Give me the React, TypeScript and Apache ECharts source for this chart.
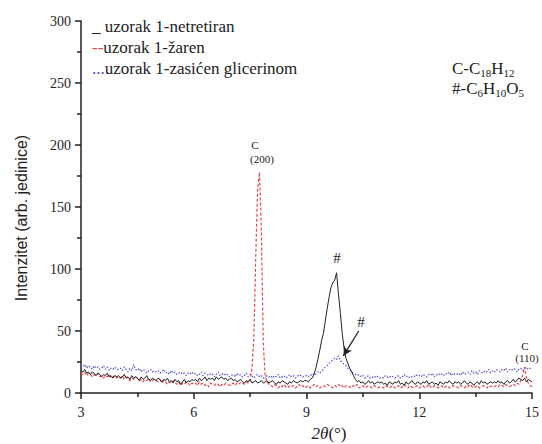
import React, { useEffect, useRef } from "react";
import * as echarts from "echarts";

// 2θ sampling grid: 3.00 .. 15.00 step 0.05 (241 points)
const X_START = 3;
const X_STEP = 0.05;

// uzorak 1-netretiran (black)
const netretiran = [
  18,17,19,16,17,15,17,16,14,16,15,13,15,14,16,13,14,12,14,13,
  14,12,13,15,12,13,11,14,12,13,12,10,13,11,12,14,11,10,12,11,
  10,12,11,9,11,10,12,9,10,8,11,9,10,7,9,11,8,10,9,11,
  10,11,9,12,10,11,13,10,12,11,12,10,13,11,12,13,11,12,10,11,
  12,10,11,9,10,11,9,8,10,9,11,8,9,10,8,9,10,8,9,10,
  8,9,10,8,7,9,8,10,9,8,7,9,8,10,9,8,9,10,9,10,
  10,9,11,12,15,20,27,34,42,48,58,68,77,85,89,91,97,80,65,48,
  36,28,24,20,17,14,11,9,10,8,9,7,8,10,8,9,7,8,9,8,
  9,7,8,6,9,8,7,9,8,10,7,8,6,9,7,8,10,8,7,9,
  8,7,9,8,10,7,8,9,7,8,6,9,8,7,9,8,10,8,7,9,
  8,9,7,8,10,8,7,9,8,6,8,9,7,10,8,9,7,8,9,8,
  9,8,10,8,9,7,9,10,8,9,11,9,10,12,11,10,12,9,11,10,
  9,
];

// uzorak 1-žaren (red, dashed)
const zaren = [
  16,15,17,14,16,15,13,15,14,16,13,14,12,14,13,15,12,13,14,12,
  13,12,14,11,13,12,10,12,11,13,12,10,11,9,11,10,12,9,10,11,
  10,9,11,8,10,9,7,9,8,10,8,7,9,6,8,7,9,8,6,8,
  7,8,6,9,7,8,6,7,5,8,7,6,8,7,5,7,6,8,7,6,
  7,8,6,8,7,9,8,7,9,8,10,20,45,110,165,178,130,40,14,9,
  7,6,5,7,6,4,6,5,7,5,4,6,5,6,4,5,7,5,6,4,
  5,6,4,5,7,5,6,4,5,6,5,7,6,5,4,6,5,7,5,6,
  4,6,5,5,4,6,5,7,4,5,6,4,5,6,5,4,6,5,4,5,
  5,4,6,5,4,5,6,4,5,6,4,5,7,5,4,6,5,4,5,6,
  4,5,6,4,5,7,5,4,6,5,4,5,6,4,5,6,4,5,6,5,
  5,4,6,5,4,6,5,7,5,4,5,6,4,5,6,5,4,6,5,6,
  5,6,5,7,6,5,7,6,5,6,7,6,8,7,10,14,21,13,8,6,
  5,
];

// uzorak 1-zasićen glicerinom (blue, dotted)
const glicerin = [
  22,21,23,20,22,21,19,22,20,21,19,20,22,19,21,18,20,19,21,19,
  19,20,18,21,19,17,20,18,23,19,18,20,17,19,18,16,18,19,17,18,
  17,18,16,17,19,16,17,15,18,16,17,15,16,17,15,16,14,16,15,17,
  15,16,14,15,17,14,16,15,14,16,15,13,15,17,14,15,16,14,15,13,
  14,15,13,16,14,15,13,14,16,13,15,14,12,14,15,13,14,12,13,14,
  13,14,12,14,13,15,12,13,14,12,13,15,13,14,12,13,15,14,13,14,
  14,13,15,14,16,15,17,16,18,19,21,22,24,25,27,28,27,30,26,25,
  23,22,20,19,17,16,15,14,15,13,14,12,13,14,12,13,12,14,13,12,
  13,12,14,13,12,14,13,12,13,14,12,13,15,13,14,12,13,14,13,15,
  14,13,15,14,13,15,14,16,13,15,14,16,15,14,16,15,17,14,16,15,
  15,16,14,17,15,16,17,15,18,16,17,15,18,17,16,18,17,19,16,18,
  17,19,18,17,19,18,20,17,19,18,20,19,17,19,20,18,19,21,19,20,
  19,
];

const xTicks = [3, 6, 9, 12, 15];
const yTicks = [0, 50, 100, 150, 200, 250, 300];

const legendNames = ["uzorak 1-netretiran", "uzorak 1-žaren", "uzorak 1-zasićen glicerinom"];

const toPairs = (ys: number[]) =>
  ys.map((y, i) => [Math.round((X_START + i * X_STEP) * 100) / 100, y]);

const SERIF = "Liberation Serif";
const SANS = "Liberation Sans";

export default function App() {
  const ref = useRef<HTMLDivElement>(null);
  useEffect(() => {
    if (!ref.current) return;
    const chart = echarts.init(ref.current, undefined, { renderer: "svg" });
    const axisCommon = {
      axisLine: { show: true, lineStyle: { color: "#222", width: 1.5 } },
      axisTick: { show: true, length: 6, lineStyle: { color: "#222", width: 1.5 } },
      minorTick: { show: true, splitNumber: 2, length: 4, lineStyle: { color: "#222", width: 1.5 } },
      splitLine: { show: false },
      axisLabel: { color: "#222", fontFamily: SERIF, fontSize: 14 },
    };
    const txt = (x: number, y: number, text: string, fontSize: number) => ({
      type: "text",
      x,
      y,
      style: { text, fill: "#222", fontFamily: SERIF, fontSize, textAlign: "center", textVerticalAlign: "middle" },
    });
    const legendItem = (top: number, key: string, keyColor: string, name: string) => ({
      type: "text",
      left: 92,
      top,
      style: {
        text: "{k|" + key + "}{t|" + name + "}",
        rich: {
          k: { fill: keyColor, fontFamily: SERIF, fontSize: 17 },
          t: { fill: "#222", fontFamily: SERIF, fontSize: 17 },
        },
      },
    });
    const formulaRich = {
      m: { fill: "#222", fontFamily: SERIF, fontSize: 17, lineHeight: 20 },
      s: { fill: "#222", fontFamily: SERIF, fontSize: 11, lineHeight: 8, verticalAlign: "bottom" },
    };
    chart.setOption({
      animation: false,
      backgroundColor: "#fff",
      grid: { left: 81, right: 8, top: 21, bottom: 51, containLabel: false },
      xAxis: {
        type: "value",
        min: xTicks[0],
        max: xTicks[xTicks.length - 1],
        interval: 3,
        ...axisCommon,
        axisLabel: { ...axisCommon.axisLabel, margin: 12 },
      },
      yAxis: {
        type: "value",
        min: yTicks[0],
        max: yTicks[yTicks.length - 1],
        interval: 50,
        ...axisCommon,
        axisLabel: { ...axisCommon.axisLabel, margin: 10 },
      },
      series: [
        {
          name: legendNames[2],
          type: "line",
          data: toPairs(glicerin),
          showSymbol: false,
          lineStyle: { color: "#5c5cd2", width: 1.3, type: [1.5, 1.8] },
          z: 2,
        },
        {
          name: legendNames[1],
          type: "line",
          data: toPairs(zaren),
          showSymbol: false,
          lineStyle: { color: "#e5484d", width: 1.2, type: [3, 2] },
          z: 3,
        },
        {
          name: legendNames[0],
          type: "line",
          data: toPairs(netretiran),
          showSymbol: false,
          lineStyle: { color: "#222", width: 1 },
          z: 4,
          markLine: {
            silent: true,
            symbol: ["none", "arrow"],
            symbolSize: [7, 9],
            label: { show: false },
            lineStyle: { color: "#222", width: 1.3, type: "solid" },
            data: [[{ coord: [10.39, 50] }, { coord: [9.98, 30] }]],
          },
        },
      ],
      graphic: [
        legendItem(18, "_ ", "#222", legendNames[0]),
        legendItem(39, "--", "#e5484d", legendNames[1]),
        legendItem(60, "...", "#4a4ac8", legendNames[2]),
        {
          type: "text",
          left: 452,
          top: 60,
          style: { text: "{m|C-C}{s|18}{m|H}{s|12}", rich: formulaRich },
        },
        {
          type: "text",
          left: 452,
          top: 80,
          style: { text: "{m|#-C}{s|6}{m|H}{s|10}{m|O}{s|5}", rich: formulaRich },
        },
        txt(255, 145, "C", 11),
        txt(262, 159, "(200)", 11),
        txt(337, 258, "#", 15),
        txt(361, 322, "#", 15),
        txt(525, 346, "C", 11),
        txt(527, 358, "(110)", 11),
        {
          type: "text",
          x: 21,
          y: 218,
          rotation: Math.PI / 2,
          style: {
            text: "Intenzitet (arb. jedinice)",
            fill: "#222",
            fontFamily: SANS,
            fontSize: 16,
            textAlign: "center",
            textVerticalAlign: "middle",
          },
        },
        {
          type: "text",
          x: 329,
          y: 433,
          style: {
            text: "{i|2θ}{n|(°)}",
            textAlign: "center",
            textVerticalAlign: "middle",
            rich: {
              n: { fill: "#222", fontFamily: SERIF, fontSize: 17 },
              i: { fill: "#222", fontFamily: SERIF, fontSize: 17, fontStyle: "italic" },
            },
          },
        },
      ],
    });
    return () => chart.dispose();
  }, []);
  return <div ref={ref} style={{ position: "fixed", left: 0, top: 0, width: 542, height: 444 }} />;
}
